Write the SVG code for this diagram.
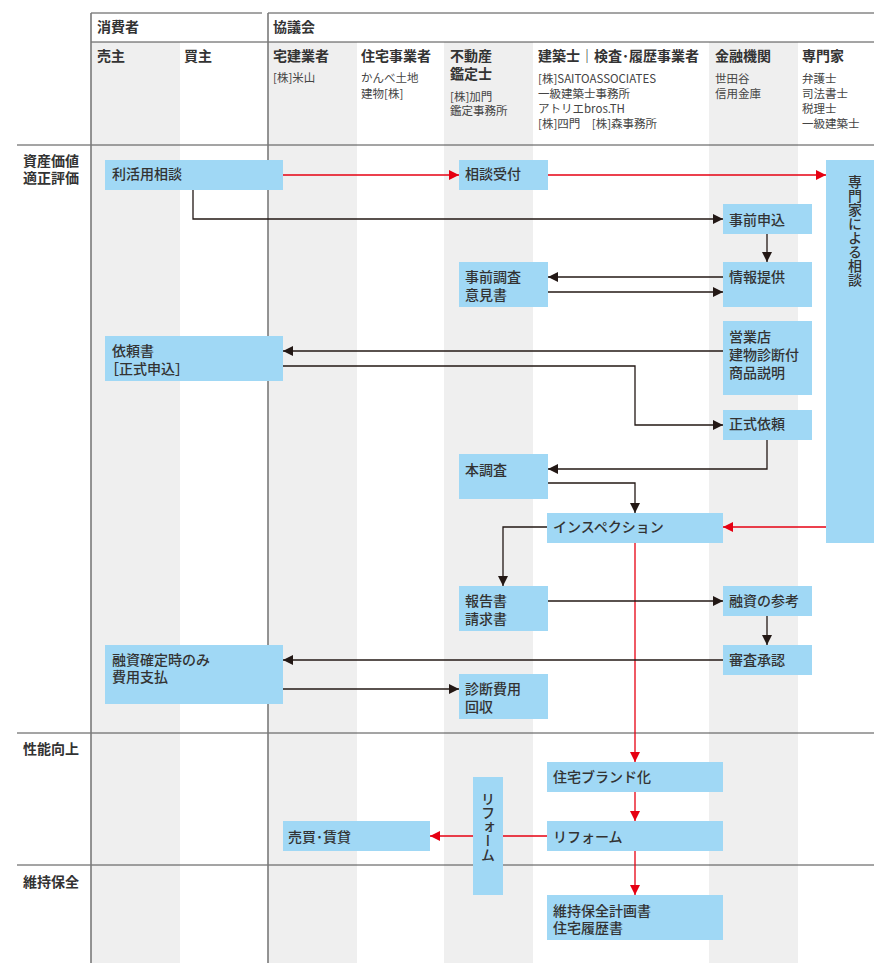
<svg xmlns="http://www.w3.org/2000/svg" width="874" height="963" viewBox="0 0 874 963">
<defs>
<style>
text{font-family:"Noto Sans CJK JP","Noto Sans",sans-serif;fill:#333;}
.h{font-size:14px;font-weight:700;}
.s{font-size:11.5px;fill:#444;}
.r{font-size:14px;font-weight:700;}
.n{font-size:14px;font-weight:500;}
.v{font-size:14px;font-weight:500;writing-mode:vertical-rl;}
.box{fill:#a0d8f5;}
.col{fill:#efefef;}
.vl{stroke:#7a7a7a;stroke-width:1.6;fill:none;}
.hl{stroke:#4a4a4a;stroke-width:1;fill:none;}
.k{stroke:#231815;stroke-width:1.3;fill:none;marker-end:url(#ak);}
.rd{stroke:#e60012;stroke-width:1.3;fill:none;marker-end:url(#ar);}
</style>
<marker id="ak" markerUnits="userSpaceOnUse" markerWidth="10" markerHeight="10" refX="10" refY="5" orient="auto"><path d="M0,0 L10,5 L0,10 z" fill="#231815"/></marker>
<marker id="ar" markerUnits="userSpaceOnUse" markerWidth="10" markerHeight="10" refX="10" refY="5" orient="auto"><path d="M0,0 L10,5 L0,10 z" fill="#e60012"/></marker>
</defs>
<rect width="874" height="963" fill="#fff"/>
<g id="columns">
<rect class="col" x="91" y="42" width="89" height="921"/>
<rect class="col" x="268" y="42" width="89" height="921"/>
<rect class="col" x="444" y="42" width="89" height="921"/>
<rect class="col" x="709" y="42" width="89" height="921"/>
</g>
<g id="grid">
<path class="hl" d="M91,13 H262 M268,13 H874 M91,42 H874 M17,145 H874 M17,733 H874 M17,865 H874"/>
<path class="vl" d="M91,13 V963 M268,13 V963"/>
</g>
<g id="headers">
<text class="h" x="97" y="32">消費者</text>
<text class="h" x="273" y="32">協議会</text>
<text class="h" x="97" y="61">売主</text>
<text class="h" x="184" y="61">買主</text>
<text class="h" x="273" y="61">宅建業者</text>
<text class="s" x="273" y="82">[株]米山</text>
<text class="h" x="361" y="61">住宅事業者</text>
<text class="s" x="361" y="82">かんべ土地</text>
<text class="s" x="361" y="98">建物[株]</text>
<text class="h" x="450" y="61">不動産</text>
<text class="h" x="450" y="79">鑑定士</text>
<text class="s" x="450" y="101">[株]加門</text>
<text class="s" x="450" y="115">鑑定事務所</text>
<text class="h" x="538" y="61">建築士｜検査･履歴事業者</text>
<text class="s" x="538" y="83">[株]SAITOASSOCIATES</text>
<text class="s" x="538" y="98">一級建築士事務所</text>
<text class="s" x="538" y="113">アトリエbros.TH</text>
<text class="s" x="538" y="128">[株]四門　[株]森事務所</text>
<text class="h" x="715" y="61">金融機関</text>
<text class="s" x="715" y="83">世田谷</text>
<text class="s" x="715" y="98">信用金庫</text>
<text class="h" x="802" y="61">専門家</text>
<text class="s" x="802" y="83">弁護士</text>
<text class="s" x="802" y="98">司法書士</text>
<text class="s" x="802" y="113">税理士</text>
<text class="s" x="802" y="128">一級建築士</text>
</g>
<g id="rows">
<text class="r" x="23" y="166">資産価値</text>
<text class="r" x="23" y="183">適正評価</text>
<text class="r" x="23" y="754">性能向上</text>
<text class="r" x="23" y="887">維持保全</text>
</g>
<g id="connectors">
<path class="rd" d="M283,175 H459"/>
<path class="rd" d="M548,175 H826"/>
<path class="rd" d="M826,527 H723"/>
<path class="rd" d="M635,543 V762"/>
<path class="rd" d="M635,792 V821"/>
<path class="rd" d="M635,851 V895"/>
<path class="rd" d="M547,836 H430"/>
<path class="k" d="M193,190 V219 H723"/>
<path class="k" d="M767,234 V262"/>
<path class="k" d="M723,277 H548"/>
<path class="k" d="M548,292 H723"/>
<path class="k" d="M723,351 H283"/>
<path class="k" d="M283,366 H635 V425 H723"/>
<path class="k" d="M767,440 V469 H548"/>
<path class="k" d="M548,483 H635 V513"/>
<path class="k" d="M547,527 H503 V586"/>
<path class="k" d="M548,601 H723"/>
<path class="k" d="M767,616 V645"/>
<path class="k" d="M723,660 H283"/>
<path class="k" d="M283,689 H459"/>
</g>
<g id="n-rikatsuyo"><rect class="box" x="105" y="160" width="178" height="30"/><text class="n" x="112" y="179">利活用相談</text></g>
<g id="n-sodan-uketsuke"><rect class="box" x="459" y="160" width="89" height="30"/><text class="n" x="465" y="179">相談受付</text></g>
<g id="n-senmonka"><rect class="box" x="826" y="160" width="48" height="383"/><text class="v" x="855" y="175">専門家による相談</text></g>
<g id="n-jizen-moushikomi"><rect class="box" x="723" y="204" width="89" height="30"/><text class="n" x="729" y="225">事前申込</text></g>
<g id="n-jizen-chosa"><rect class="box" x="459" y="262" width="89" height="45"/><text class="n" x="465" y="282">事前調査</text><text class="n" x="465" y="300">意見書</text></g>
<g id="n-joho"><rect class="box" x="723" y="262" width="89" height="45"/><text class="n" x="729" y="282">情報提供</text></g>
<g id="n-eigyoten"><rect class="box" x="723" y="321" width="89" height="74"/><text class="n" x="729" y="342">営業店</text><text class="n" x="729" y="360">建物診断付</text><text class="n" x="729" y="378">商品説明</text></g>
<g id="n-iraisho"><rect class="box" x="105" y="336" width="178" height="45"/><text class="n" x="112" y="356">依頼書</text><text class="n" x="105" y="374">［正式申込］</text></g>
<g id="n-seishiki"><rect class="box" x="723" y="410" width="89" height="30"/><text class="n" x="729" y="429">正式依頼</text></g>
<g id="n-honchosa"><rect class="box" x="459" y="454" width="89" height="45"/><text class="n" x="465" y="475">本調査</text></g>
<g id="n-inspection"><rect class="box" x="547" y="513" width="176" height="30"/><text class="n" x="553" y="532">インスペクション</text></g>
<g id="n-hokoku"><rect class="box" x="459" y="586" width="89" height="45"/><text class="n" x="465" y="606">報告書</text><text class="n" x="465" y="624">請求書</text></g>
<g id="n-yushi-sanko"><rect class="box" x="723" y="586" width="89" height="30"/><text class="n" x="729" y="606">融資の参考</text></g>
<g id="n-shinsa"><rect class="box" x="723" y="645" width="89" height="30"/><text class="n" x="729" y="665">審査承認</text></g>
<g id="n-yushi-kakutei"><rect class="box" x="105" y="645" width="178" height="59"/><text class="n" x="112" y="665">融資確定時のみ</text><text class="n" x="112" y="682">費用支払</text></g>
<g id="n-shindan-hiyo"><rect class="box" x="459" y="674" width="89" height="45"/><text class="n" x="465" y="694">診断費用</text><text class="n" x="465" y="712">回収</text></g>
<g id="n-brand"><rect class="box" x="547" y="762" width="176" height="30"/><text class="n" x="553" y="782">住宅ブランド化</text></g>
<g id="n-reform-v"><rect class="box" x="473" y="777" width="30" height="118"/><text class="v" x="488" y="792">リフォーム</text></g>
<g id="n-reform"><rect class="box" x="547" y="821" width="176" height="30"/><text class="n" x="553" y="842">リフォーム</text></g>
<g id="n-baibai"><rect class="box" x="283" y="821" width="147" height="30"/><text class="n" x="288" y="842">売買･賃貸</text></g>
<g id="n-iji"><rect class="box" x="547" y="895" width="176" height="45"/><text class="n" x="553" y="916">維持保全計画書</text><text class="n" x="553" y="933">住宅履歴書</text></g>
</svg>
